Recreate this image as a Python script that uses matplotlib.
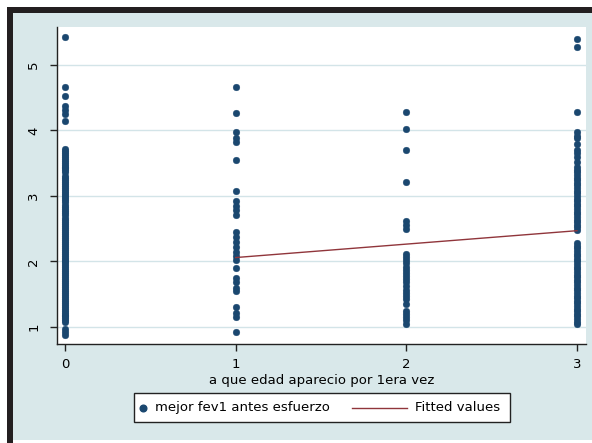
import matplotlib
matplotlib.use("Agg")
import matplotlib.pyplot as plt
from matplotlib.patches import Rectangle
from matplotlib.lines import Line2D

# ---- data ----
age_categories = [0, 1, 2, 3]
fev_age0 = [5.43, 4.67, 4.52, 4.37, 4.31, 4.25, 4.15,
            3.72, 3.69, 3.66, 3.63, 3.60, 3.57, 3.54, 3.51, 3.48, 3.45, 3.42, 3.39, 3.36,
            3.30, 3.27, 3.24, 3.21, 3.18, 3.15, 3.12, 3.09, 3.06, 3.03, 3.00, 2.97, 2.94,
            2.91, 2.86, 2.83, 2.80, 2.77, 2.74, 2.71, 2.66, 2.63, 2.60, 2.57, 2.54, 2.51,
            2.48, 2.45, 2.42, 2.39, 2.36, 2.33, 2.30, 2.27, 2.24, 2.21, 2.18, 2.15, 2.12,
            2.09, 2.06, 2.03, 2.00, 1.97, 1.94, 1.91, 1.88, 1.85, 1.82, 1.79, 1.76, 1.73,
            1.70, 1.67, 1.64, 1.61, 1.58, 1.55, 1.52, 1.49, 1.46, 1.43, 1.40, 1.37, 1.34,
            1.31, 1.28, 1.25, 1.22, 1.19, 1.16, 1.13, 1.10, 1.07, 0.97, 0.93, 0.88]
fev_age1 = [4.67, 4.27, 3.98, 3.88, 3.83, 3.55, 3.07, 2.92, 2.85, 2.78, 2.71, 2.45,
            2.38, 2.30, 2.22, 2.15, 2.08, 2.03, 1.90, 1.75, 1.68, 1.60, 1.55, 1.30,
            1.22, 1.15, 0.93]
fev_age2 = [4.28, 4.03, 3.70, 3.22, 2.62, 2.55, 2.50, 2.12, 2.07, 2.02, 1.97, 1.92,
            1.87, 1.82, 1.78, 1.73, 1.68, 1.62, 1.57, 1.52, 1.47, 1.42, 1.35, 1.25,
            1.20, 1.15, 1.10, 1.05]
fev_age3 = [5.40, 5.27, 4.28, 3.97, 3.92, 3.88, 3.79, 3.70, 3.65, 3.60, 3.52, 3.44,
            3.40, 3.36, 3.32, 3.28, 3.24, 3.20, 3.16, 3.12, 3.08, 3.04, 3.00, 2.96,
            2.92, 2.88, 2.84, 2.80, 2.76, 2.72, 2.68, 2.64, 2.60, 2.56, 2.52, 2.48,
            2.28, 2.24, 2.20, 2.16, 2.12, 2.08, 2.04, 2.00, 1.96, 1.92, 1.88, 1.84,
            1.80, 1.76, 1.72, 1.68, 1.64, 1.60, 1.56, 1.52, 1.48, 1.44, 1.40, 1.36,
            1.32, 1.28, 1.24, 1.20, 1.16, 1.12, 1.08, 1.05]
fit_x = [1, 3]
fit_y = [2.06, 2.47]
x_ticks = [0, 1, 2, 3]
y_ticks = [1, 2, 3, 4, 5]
x_label = "a que edad aparecio por 1era vez"
legend_labels = ["mejor fev1 antes esfuerzo", "Fitted values"]

NAVY = "#1a476f"
RED = "#90353b"
BG = "#d9e8ea"
GRID = "#d3e4e8"
FONT = "DejaVu Sans"
FS = 9.5
MS = 4.8

W, H = 592, 443
fig = plt.figure(figsize=(W / 100, H / 100), dpi=100)
fig.patch.set_facecolor("white")

def fx(x):
    return x / W

def fy(y):
    return 1 - y / H

# background panel and scanned black border
fig.add_artist(Rectangle((fx(13), fy(440)), fx(592 - 13), (440 - 13) / H,
                         transform=fig.transFigure, facecolor=BG, edgecolor="none", zorder=0))
fig.add_artist(Rectangle((fx(7), fy(13)), fx(592 - 7), 6 / H,
                         transform=fig.transFigure, facecolor="#231f20", edgecolor="none", zorder=1))
fig.add_artist(Rectangle((fx(7), fy(443)), fx(6), (443 - 7) / H,
                         transform=fig.transFigure, facecolor="#231f20", edgecolor="none", zorder=1))

ax = fig.add_axes([fx(57), fy(344), fx(586 - 57), (344 - 27) / H])
ax.set_facecolor("white")

groups = [fev_age0, fev_age1, fev_age2, fev_age3]
for xv, vals in zip(age_categories, groups):
    ax.plot([xv] * len(vals), vals, linestyle="none", marker="o", markersize=MS,
            markerfacecolor=NAVY, markeredgecolor=NAVY, markeredgewidth=0.3, zorder=3)
ax.plot(fit_x, fit_y, color=RED, linewidth=1.0, zorder=4)

ax.set_xlim(-0.047, 3.053)
ax.set_ylim(0.74, 5.58)
ax.set_xticks(x_ticks)
ax.set_yticks(y_ticks)
ax.set_xticklabels([str(t) for t in x_ticks], fontsize=FS, family=FONT)
ax.set_yticklabels([str(t) for t in y_ticks], fontsize=FS, family=FONT, rotation=90, va="center")
ax.tick_params(axis="both", direction="out", length=5, width=1, color="#222222")
ax.tick_params(axis="y", pad=7)
ax.tick_params(axis="x", pad=5)
ax.grid(axis="y", color=GRID, linewidth=1.0, zorder=0)
ax.set_axisbelow(True)
for s in ["top", "right"]:
    ax.spines[s].set_visible(False)
for s in ["left", "bottom"]:
    ax.spines[s].set_color("#222222")
    ax.spines[s].set_linewidth(1.0)
ax.set_xlabel(x_label, fontsize=FS, family=FONT, labelpad=2)

# legend box (Stata style)
fig.add_artist(Rectangle((fx(134), fy(422)), fx(510 - 134), (422 - 393) / H,
                         transform=fig.transFigure, facecolor="white", edgecolor="#222222",
                         linewidth=1.0, zorder=5))
fig.add_artist(Line2D([fx(143)], [fy(407.5)], transform=fig.transFigure, linestyle="none",
                      marker="o", markersize=MS, markerfacecolor=NAVY, markeredgecolor=NAVY,
                      zorder=6))
fig.text(fx(155), fy(407.5), legend_labels[0], fontsize=FS, family=FONT,
         va="center", ha="left", zorder=6)
fig.add_artist(Line2D([fx(352), fx(407)], [fy(407.5), fy(407.5)], transform=fig.transFigure,
                      color=RED, linewidth=1.0, zorder=6))
fig.text(fx(415), fy(407.5), legend_labels[1], fontsize=FS, family=FONT,
         va="center", ha="left", zorder=6)

fig.savefig("out.png", dpi=100, facecolor=fig.get_facecolor())
